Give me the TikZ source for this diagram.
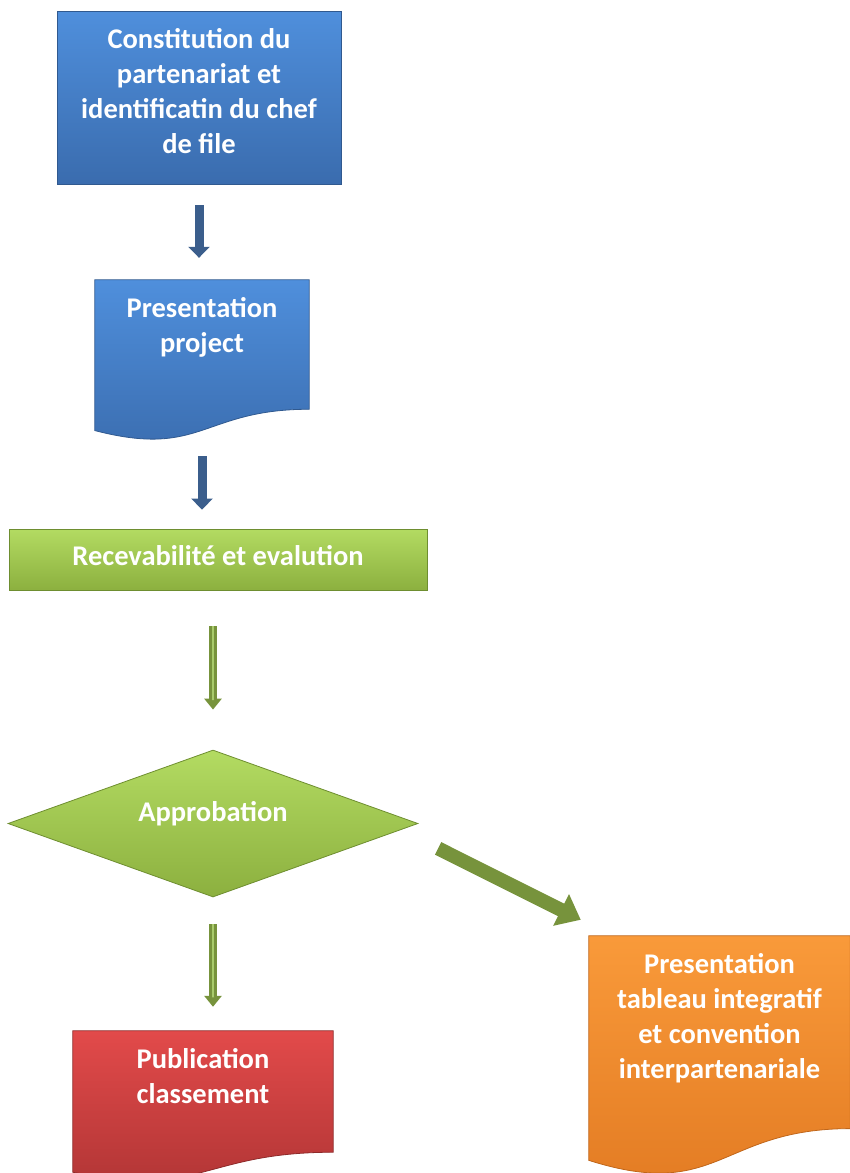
\documentclass[tikz,border=0pt]{standalone}
\usepackage{fontspec}
\setmainfont{Carlito}
\usetikzlibrary{shapes.geometric, arrows.meta, positioning, calc, backgrounds}

\definecolor{blueT}{HTML}{4F8FDC}
\definecolor{blueB}{HTML}{3A6CAE}
\definecolor{blueEdge}{HTML}{30598F}
\definecolor{blueArrow}{HTML}{3B5E8C}
\definecolor{greenT}{HTML}{B3DB62}
\definecolor{greenB}{HTML}{8CB03F}
\definecolor{greenEdge}{HTML}{6E8E30}
\definecolor{greenArrow}{HTML}{77933C}
\definecolor{greenGlint}{HTML}{A9CB6C}
\definecolor{redT}{HTML}{E24A4A}
\definecolor{redB}{HTML}{AE3434}
\definecolor{redEdge}{HTML}{8E2A2A}
\definecolor{orangeT}{HTML}{F99A3A}
\definecolor{orangeB}{HTML}{E27A22}
\definecolor{orangeEdge}{HTML}{C0661A}

\newcommand{\stepfont}{\bfseries\fontsize{28.5}{35}\selectfont}
% text block pinned to the top of a box: height, width, text
\newcommand{\toptext}[3]{\parbox[c][#1][t]{#2}{\centering\vspace*{17pt}#3}}
% wavy document outline behind a node: node, top colour, bottom colour, edge
\newcommand{\docshape}[4]{%
  \path[top color=#2, bottom color=#3, draw=#4, line width=0.8pt]
    (#1.north west) -- (#1.north east)
    -- ($(#1.north east)!0.802!(#1.south east)$)
    .. controls ($(#1.north)!0.802!(#1.south)$) and ($(#1.north)!1.107!(#1.south)$)
    .. ($(#1.north west)!0.934!(#1.south west)$) -- cycle;}

\begin{document}
\begin{tikzpicture}[
    x=1pt, y=-1pt,
    box/.style={rectangle, inner sep=0pt, text=white, font=\stepfont, line width=0.8pt},
    doc/.style={rectangle, inner sep=0pt, text=white, font=\stepfont},
    decision/.style={diamond, aspect=2.79, minimum width=410pt, minimum height=147pt, inner sep=0pt,
        text=white, font=\stepfont, top color=greenT, bottom color=greenB, draw=greenEdge, line width=0.8pt},
    bluearrow/.style={draw=blueArrow, line width=9pt, -{Triangle[length=11pt,width=21pt]}},
    greenarrow/.style={draw=greenArrow, line width=8pt, -{Triangle[length=11pt,width=17pt]},
        postaction={draw=greenGlint, line width=1.5pt, -{Triangle[length=11pt,width=1.5pt]}}},
    bigarrow/.style={draw=greenArrow, line width=14pt, -{Triangle[length=22pt,width=34pt]}}
]
\useasboundingbox (0,0) rectangle (850,1173);

% Nodes
\node (constit) [box, top color=blueT, bottom color=blueB, draw=blueEdge] at (199,97.5)
    {\toptext{173pt}{284pt}{Constitution du\\partenariat et\\identificatin du chef\\de file}};
\node (presproj) [doc] at (202,360.5) {\toptext{161pt}{214pt}{Presentation\\project}};
\node (recev) [box, top color=greenT, bottom color=greenB, draw=greenEdge,
    minimum width=418pt, minimum height=61pt] at (218,559.5) {\raisebox{8pt}{Recevabilité et evalution}};
\node (appro) [decision] at (213,823.5) {\raisebox{25pt}{Approbation}};
\node (publi) [doc] at (203,1106.5) {\toptext{151pt}{260pt}{Publication\\classement}};
\node (tableau) [doc] at (719.5,1056)
    {\toptext{240pt}{261pt}{Presentation\\tableau integratif\\et convention\\interpartenariale}};

% Document shapes
\begin{scope}[on background layer]
\docshape{presproj}{blueT}{blueB}{blueEdge}
\docshape{publi}{redT}{redB}{redEdge}
\docshape{tableau}{orangeT}{orangeB}{orangeEdge}
\end{scope}

% Arrows
\draw [bluearrow, shorten <=21pt, shorten >=22pt] (constit.south) -- (constit.south |- presproj.north);
\draw [bluearrow, shorten <=15pt, shorten >=19pt] (presproj.south) -- (presproj.south |- recev.north);
\draw [greenarrow, shorten <=36pt, shorten >=40pt] (appro.north |- recev.south) -- (appro.north);
\draw [greenarrow, shorten <=27pt, shorten >=24pt] (appro.south) -- (appro.south |- publi.north);
\draw [bigarrow, shorten <=22pt, shorten >=9pt] ([yshift=-15pt]appro.east) -- ([yshift=12pt]tableau.north west);

\end{tikzpicture}
\end{document}
